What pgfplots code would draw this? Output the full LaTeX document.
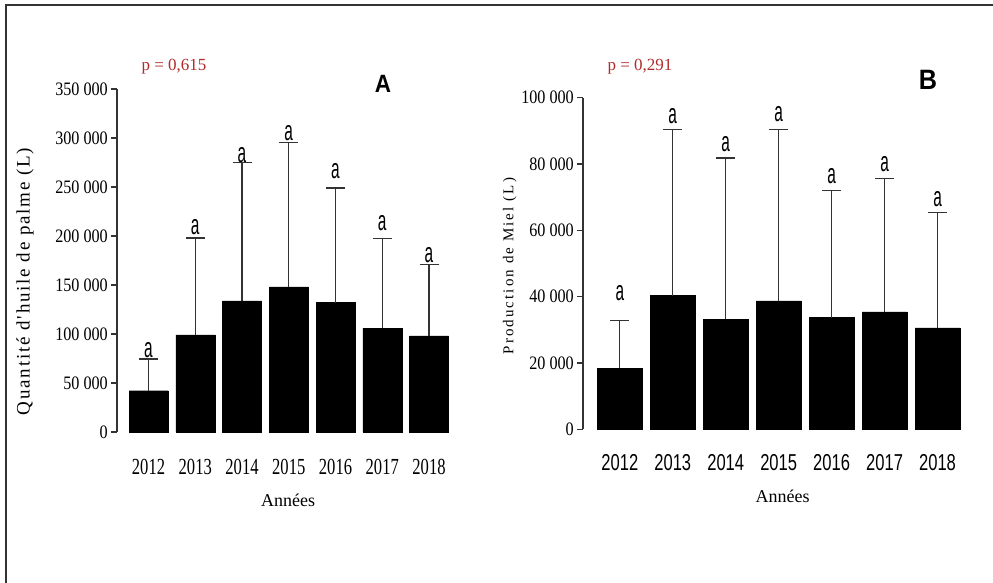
\documentclass[border=0pt]{standalone}
\usepackage{fontspec}
\setmainfont{Liberation Serif}
\newfontfamily\fTick[FakeStretch=0.85]{Liberation Serif}
\newfontfamily\fYearA[FakeStretch=0.72]{Liberation Serif}
\newfontfamily\fYearB[FakeStretch=0.72]{Liberation Sans}
\newfontfamily\fLet[FakeStretch=0.55]{Liberation Sans}
\newfontfamily\fBold[FakeStretch=0.9]{Liberation Sans}
\newfontfamily\fLabA[LetterSpace=9.5]{Liberation Serif}
\newfontfamily\fLabB[LetterSpace=14]{Liberation Serif}
\usepackage{graphicx}
\usepackage{pgfplots}
\pgfplotsset{compat=1.18}
\definecolor{pred}{HTML}{B02A2A}
\definecolor{axgray}{HTML}{333333}

\pgfplotsset{
  common/.style={
    scale only axis,
    anchor=south west,
    axis lines=left,
    axis line style={-, axgray, line width=1.2pt},
    x axis line style={draw=none},
    xtick=data,
    xticklabels={2012,2013,2014,2015,2016,2017,2018},
    x tick style={draw=none},
    y tick style={axgray, line width=1.2pt},
    tick align=outside,
    major tick length=6pt,
    ymin=0,
    scaled y ticks=false,
    /pgf/number format/assume math mode=true,
    yticklabel style={font=\fTick\fontsize{19}{19}\selectfont, inner sep=3pt},
    ylabel style={anchor=center, rotate=0},
    xlabel style={anchor=center, font=\fontsize{18}{18}\selectfont},
    clip=false,
  },
  bars/.style={
    ybar, bar width=#1, fill=black, draw=black,
    error bars/.cd, y dir=plus, y explicit,
    error bar style={axgray, line width=1.1pt},
    error mark options={axgray, mark size=9.5pt, line width=1.1pt, rotate=90},
  },
}

\begin{document}
\begin{tikzpicture}
\useasboundingbox (0,0) rectangle (993pt,583pt);
% frame
\draw[axgray, line width=2pt] (6pt,0pt) -- (6pt,578pt) -- (993pt,578pt);

% ---------------- Panel A ----------------
\begin{axis}[common,
  at={(117pt,151pt)},
  width=335.4pt, height=343pt,
  xmin=-0.674, xmax=6.5,
  ymax=350000,
  ytick={0,50000,100000,150000,200000,250000,300000,350000},
  yticklabels={0,50 000,100 000,150 000,200 000,250 000,300 000,350 000},
  xticklabel style={font=\fYearA\fontsize{23}{23}\selectfont, anchor=center, yshift=-29pt},
  xlabel={Années},
  xlabel style={at={(axis description cs:0.51,-0.198)}, font=\fontsize{18}{18}\selectfont},
  ylabel={Quantité d'huile de palme (L)},
  ylabel style={at={(axis description cs:-0.274,0.439)}, rotate=0, font=\fLabA\fontsize{19}{19}\selectfont},
]
\addplot[bars=39pt] coordinates {
  (0,42100)  +- (0,32400)
  (1,99000)  +- (0,99000)
  (2,133700) +- (0,141300)
  (3,148000) +- (0,147000)
  (4,132000) +- (0,117000)
  (5,106000) +- (0,91000)
  (6,98000)  +- (0,73000)
};
\foreach \i/\v in {0/83700,1/209500,2/282700,3/304600,4/265800,5/212900,6/180600}{
  \edef\tmp{\noexpand\node[font=\noexpand\fLet\noexpand\fontsize{28}{28}\noexpand\selectfont, inner sep=0pt, anchor=center] at (axis cs:\i,\v) {a};}
  \tmp
}
\end{axis}

% ---------------- Panel B ----------------
\begin{axis}[common,
  at={(583pt,153.7pt)},
  width=381pt, height=331.6pt,
  xmin=-0.695, xmax=6.5,
  ymax=100000,
  ytick={0,20000,40000,60000,80000,100000},
  yticklabels={0,20 000,40 000,60 000,80 000,100 000},
  xticklabel style={font=\fYearB\fontsize{23}{23}\selectfont, anchor=center, yshift=-27pt},
  xlabel={Années},
  xlabel style={at={(axis description cs:0.524,-0.203)}, font=\fontsize{18}{18}\selectfont},
  ylabel={Production de Miel (L)},
  ylabel style={at={(axis description cs:-0.192,0.492)}, font=\fLabB\fontsize{15}{15}\selectfont},
]
\addplot[bars=45pt] coordinates {
  (0,18400) +- (0,14400)
  (1,40300) +- (0,50000)
  (2,33200) +- (0,48600)
  (3,38700) +- (0,51600)
  (4,33700) +- (0,38400)
  (5,35400) +- (0,40100)
  (6,30600) +- (0,34700)
};
\foreach \i/\v in {0/41000,1/94500,2/86000,3/95100,4/76400,5/79900,6/69500}{
  \edef\tmp{\noexpand\node[font=\noexpand\fLet\noexpand\fontsize{28}{28}\noexpand\selectfont, inner sep=0pt, anchor=center] at (axis cs:\i,\v) {a};}
  \tmp
}
\end{axis}

% annotations
\node[text=pred, font=\fontsize{17}{17}\selectfont] at (174pt,516pt) {p = 0,615};
\node[text=pred, font=\fontsize{17}{17}\selectfont] at (640pt,516pt) {p = 0,291};
\node[font=\fBold\bfseries\fontsize{25}{25}\selectfont] at (383pt,499pt) {A};
\node[font=\fBold\bfseries\fontsize{28}{28}\selectfont] at (928pt,503pt) {B};
\end{tikzpicture}
\end{document}
